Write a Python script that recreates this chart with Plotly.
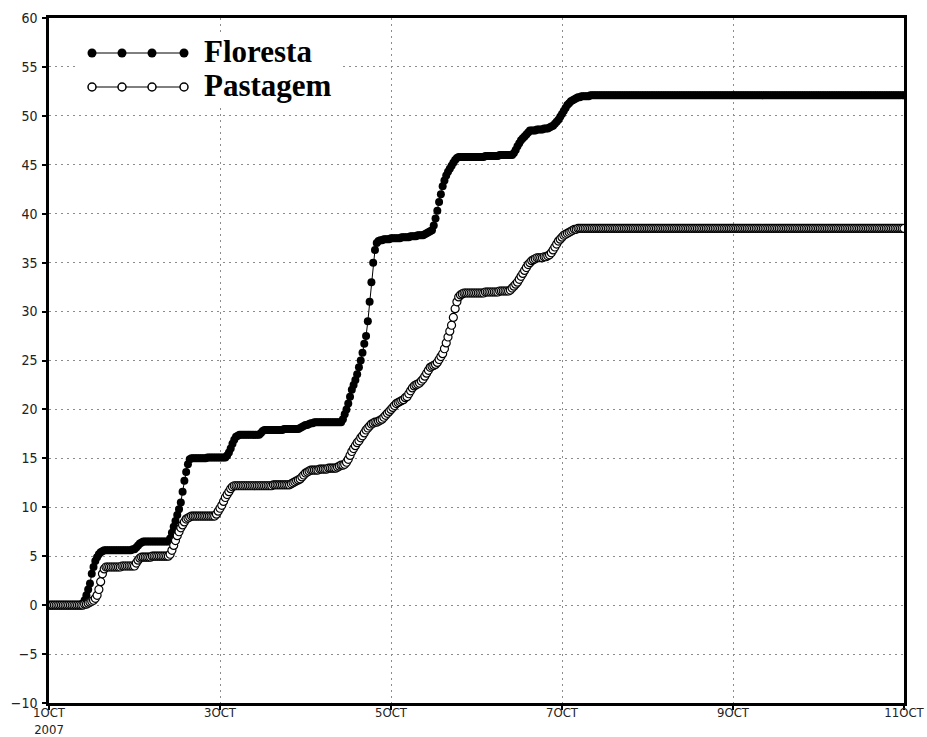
import pandas as pd
import plotly.graph_objects as go

# Accumulated rainfall (mm), half-hourly from 1 Oct 2007 00:00 to 11 Oct 2007 00:00
times = pd.date_range("2007-10-01 00:00", periods=481, freq="30min")

floresta = [
    0.0, 0.0, 0.0, 0.0, 0.0, 0.0, 0.0, 0.0, 0.0, 0.0, 0.0, 0.0, 0.0, 0.0, 0.0, 0.0, 0.0, 0.0, 0.0, 0.2, 0.5, 1.0, 1.6, 2.2,
    3.2, 3.9, 4.5, 4.9, 5.2, 5.4, 5.5, 5.6, 5.6, 5.6, 5.6, 5.6, 5.6, 5.6, 5.6, 5.6, 5.6, 5.6, 5.6, 5.6, 5.6, 5.6, 5.6, 5.7,
    5.7, 5.9, 6.1, 6.3, 6.4, 6.5, 6.5, 6.5, 6.5, 6.5, 6.5, 6.5, 6.5, 6.5, 6.5, 6.5, 6.5, 6.5, 6.5, 6.5, 6.8, 7.4, 8.0, 8.6,
    9.2, 9.8, 10.5, 11.6, 12.7, 13.6, 14.4, 14.9, 15.0, 15.0, 15.0, 15.0, 15.0, 15.0, 15.0, 15.0, 15.0, 15.1, 15.1, 15.1, 15.1, 15.1, 15.1, 15.1,
    15.1, 15.1, 15.1, 15.1, 15.3, 15.6, 16.0, 16.5, 16.9, 17.2, 17.3, 17.4, 17.4, 17.4, 17.4, 17.4, 17.4, 17.4, 17.4, 17.4, 17.4, 17.4, 17.4, 17.6,
    17.8, 17.9, 17.9, 17.9, 17.9, 17.9, 17.9, 17.9, 17.9, 17.9, 17.9, 17.9, 18.0, 18.0, 18.0, 18.0, 18.0, 18.0, 18.0, 18.0, 18.0, 18.1, 18.2, 18.3,
    18.4, 18.4, 18.5, 18.6, 18.6, 18.7, 18.7, 18.7, 18.7, 18.7, 18.7, 18.7, 18.7, 18.7, 18.7, 18.7, 18.7, 18.7, 18.7, 18.7, 18.7, 19.0, 19.5, 20.0,
    20.6, 21.3, 22.0, 22.5, 23.0, 23.6, 24.3, 25.0, 25.8, 26.7, 27.5, 29.0, 31.0, 33.0, 35.0, 36.3, 37.0, 37.2, 37.3, 37.3, 37.4, 37.4, 37.4, 37.4,
    37.5, 37.5, 37.5, 37.5, 37.5, 37.5, 37.6, 37.6, 37.6, 37.6, 37.6, 37.7, 37.7, 37.7, 37.7, 37.8, 37.8, 37.8, 37.8, 37.9, 38.0, 38.1, 38.2, 38.3,
    38.8, 39.5, 40.3, 41.2, 42.0, 42.8, 43.4, 43.9, 44.3, 44.6, 44.9, 45.2, 45.5, 45.7, 45.8, 45.8, 45.8, 45.8, 45.8, 45.8, 45.8, 45.8, 45.8, 45.8,
    45.8, 45.8, 45.8, 45.8, 45.8, 45.9, 45.9, 45.9, 45.9, 45.9, 45.9, 45.9, 45.9, 46.0, 46.0, 46.0, 46.0, 46.0, 46.0, 46.0, 46.0, 46.2, 46.5, 46.9,
    47.2, 47.5, 47.7, 47.9, 48.1, 48.3, 48.5, 48.5, 48.5, 48.5, 48.6, 48.6, 48.6, 48.6, 48.7, 48.7, 48.7, 48.8, 48.9, 49.0, 49.2, 49.4, 49.6, 49.9,
    50.2, 50.5, 50.8, 51.1, 51.3, 51.5, 51.6, 51.7, 51.8, 51.9, 51.9, 52.0, 52.0, 52.0, 52.0, 52.0, 52.1, 52.1, 52.1, 52.1, 52.1, 52.1, 52.1, 52.1,
    52.1, 52.1, 52.1, 52.1, 52.1, 52.1, 52.1, 52.1, 52.1, 52.1, 52.1, 52.1, 52.1, 52.1, 52.1, 52.1, 52.1, 52.1, 52.1, 52.1, 52.1, 52.1, 52.1, 52.1,
    52.1, 52.1, 52.1, 52.1, 52.1, 52.1, 52.1, 52.1, 52.1, 52.1, 52.1, 52.1, 52.1, 52.1, 52.1, 52.1, 52.1, 52.1, 52.1, 52.1, 52.1, 52.1, 52.1, 52.1,
    52.1, 52.1, 52.1, 52.1, 52.1, 52.1, 52.1, 52.1, 52.1, 52.1, 52.1, 52.1, 52.1, 52.1, 52.1, 52.1, 52.1, 52.1, 52.1, 52.1, 52.1, 52.1, 52.1, 52.1,
    52.1, 52.1, 52.1, 52.1, 52.1, 52.1, 52.1, 52.1, 52.1, 52.1, 52.1, 52.1, 52.1, 52.1, 52.1, 52.1, 52.1, 52.1, 52.1, 52.1, 52.1, 52.1, 52.1, 52.1,
    52.1, 52.1, 52.1, 52.1, 52.1, 52.1, 52.1, 52.1, 52.1, 52.1, 52.1, 52.1, 52.1, 52.1, 52.1, 52.1, 52.1, 52.1, 52.1, 52.1, 52.1, 52.1, 52.1, 52.1,
    52.1, 52.1, 52.1, 52.1, 52.1, 52.1, 52.1, 52.1, 52.1, 52.1, 52.1, 52.1, 52.1, 52.1, 52.1, 52.1, 52.1, 52.1, 52.1, 52.1, 52.1, 52.1, 52.1, 52.1,
    52.1, 52.1, 52.1, 52.1, 52.1, 52.1, 52.1, 52.1, 52.1, 52.1, 52.1, 52.1, 52.1, 52.1, 52.1, 52.1, 52.1, 52.1, 52.1, 52.1, 52.1, 52.1, 52.1, 52.1,
    52.1, 52.1, 52.1, 52.1, 52.1, 52.1, 52.1, 52.1, 52.1, 52.1, 52.1, 52.1, 52.1, 52.1, 52.1, 52.1, 52.1, 52.1, 52.1, 52.1, 52.1, 52.1, 52.1, 52.1,
    52.1,
]

pastagem = [
    0.0, 0.0, 0.0, 0.0, 0.0, 0.0, 0.0, 0.0, 0.0, 0.0, 0.0, 0.0, 0.0, 0.0, 0.0, 0.0, 0.0, 0.0, 0.0, 0.0, 0.1, 0.1, 0.2, 0.3,
    0.4, 0.5, 0.7, 1.0, 1.6, 2.4, 3.2, 3.7, 3.9, 3.9, 3.9, 3.9, 3.9, 3.9, 3.9, 3.9, 3.9, 4.0, 4.0, 4.0, 4.0, 4.0, 4.0, 4.0,
    4.0, 4.3, 4.6, 4.8, 4.9, 4.9, 4.9, 4.9, 4.9, 4.9, 5.0, 5.0, 5.0, 5.0, 5.0, 5.0, 5.0, 5.0, 5.0, 5.0, 5.2, 5.6, 6.1, 6.6,
    7.1, 7.5, 7.9, 8.2, 8.5, 8.8, 8.9, 9.0, 9.1, 9.1, 9.1, 9.1, 9.1, 9.1, 9.1, 9.1, 9.1, 9.1, 9.1, 9.1, 9.1, 9.1, 9.3, 9.6,
    9.9, 10.2, 10.6, 11.0, 11.3, 11.6, 11.9, 12.1, 12.2, 12.2, 12.2, 12.2, 12.2, 12.2, 12.2, 12.2, 12.2, 12.2, 12.2, 12.2, 12.2, 12.2, 12.2, 12.2,
    12.2, 12.2, 12.2, 12.2, 12.2, 12.2, 12.3, 12.3, 12.3, 12.3, 12.3, 12.3, 12.3, 12.3, 12.3, 12.3, 12.4, 12.5, 12.6, 12.7, 12.8, 12.9, 13.1, 13.3,
    13.5, 13.6, 13.7, 13.8, 13.8, 13.8, 13.8, 13.8, 13.9, 13.9, 13.9, 13.9, 13.9, 14.0, 14.0, 14.0, 14.0, 14.0, 14.1, 14.2, 14.3, 14.3, 14.4, 14.6,
    14.9, 15.3, 15.7, 16.0, 16.3, 16.6, 16.8, 17.1, 17.3, 17.6, 17.9, 18.1, 18.3, 18.5, 18.6, 18.7, 18.7, 18.8, 18.9, 19.0, 19.2, 19.4, 19.6, 19.8,
    20.0, 20.2, 20.4, 20.6, 20.7, 20.8, 20.9, 21.0, 21.2, 21.3, 21.6, 21.9, 22.2, 22.4, 22.5, 22.6, 22.7, 22.9, 23.1, 23.4, 23.7, 24.0, 24.3, 24.4,
    24.5, 24.6, 24.8, 25.1, 25.4, 25.7, 26.2, 26.8, 27.4, 28.0, 28.6, 29.4, 30.3, 31.0, 31.5, 31.7, 31.8, 31.9, 31.9, 31.9, 31.9, 31.9, 31.9, 31.9,
    31.9, 31.9, 31.9, 31.9, 31.9, 32.0, 32.0, 32.0, 32.0, 32.0, 32.0, 32.0, 32.0, 32.1, 32.1, 32.1, 32.1, 32.1, 32.1, 32.2, 32.4, 32.6, 32.8, 33.0,
    33.3, 33.6, 33.9, 34.2, 34.5, 34.8, 35.0, 35.2, 35.3, 35.4, 35.5, 35.5, 35.5, 35.5, 35.6, 35.6, 35.7, 35.8, 36.0, 36.3, 36.6, 36.9, 37.2, 37.4,
    37.6, 37.8, 37.9, 38.0, 38.1, 38.2, 38.3, 38.4, 38.4, 38.5, 38.5, 38.5, 38.5, 38.5, 38.5, 38.5, 38.5, 38.5, 38.5, 38.5, 38.5, 38.5, 38.5, 38.5,
    38.5, 38.5, 38.5, 38.5, 38.5, 38.5, 38.5, 38.5, 38.5, 38.5, 38.5, 38.5, 38.5, 38.5, 38.5, 38.5, 38.5, 38.5, 38.5, 38.5, 38.5, 38.5, 38.5, 38.5,
    38.5, 38.5, 38.5, 38.5, 38.5, 38.5, 38.5, 38.5, 38.5, 38.5, 38.5, 38.5, 38.5, 38.5, 38.5, 38.5, 38.5, 38.5, 38.5, 38.5, 38.5, 38.5, 38.5, 38.5,
    38.5, 38.5, 38.5, 38.5, 38.5, 38.5, 38.5, 38.5, 38.5, 38.5, 38.5, 38.5, 38.5, 38.5, 38.5, 38.5, 38.5, 38.5, 38.5, 38.5, 38.5, 38.5, 38.5, 38.5,
    38.5, 38.5, 38.5, 38.5, 38.5, 38.5, 38.5, 38.5, 38.5, 38.5, 38.5, 38.5, 38.5, 38.5, 38.5, 38.5, 38.5, 38.5, 38.5, 38.5, 38.5, 38.5, 38.5, 38.5,
    38.5, 38.5, 38.5, 38.5, 38.5, 38.5, 38.5, 38.5, 38.5, 38.5, 38.5, 38.5, 38.5, 38.5, 38.5, 38.5, 38.5, 38.5, 38.5, 38.5, 38.5, 38.5, 38.5, 38.5,
    38.5, 38.5, 38.5, 38.5, 38.5, 38.5, 38.5, 38.5, 38.5, 38.5, 38.5, 38.5, 38.5, 38.5, 38.5, 38.5, 38.5, 38.5, 38.5, 38.5, 38.5, 38.5, 38.5, 38.5,
    38.5, 38.5, 38.5, 38.5, 38.5, 38.5, 38.5, 38.5, 38.5, 38.5, 38.5, 38.5, 38.5, 38.5, 38.5, 38.5, 38.5, 38.5, 38.5, 38.5, 38.5, 38.5, 38.5, 38.5,
    38.5, 38.5, 38.5, 38.5, 38.5, 38.5, 38.5, 38.5, 38.5, 38.5, 38.5, 38.5, 38.5, 38.5, 38.5, 38.5, 38.5, 38.5, 38.5, 38.5, 38.5, 38.5, 38.5, 38.5,
    38.5,
]

tick_dates = ["2007-10-01", "2007-10-03", "2007-10-05", "2007-10-07", "2007-10-09", "2007-10-11"]
tick_labels = ["1OCT<br>2007", "3OCT", "5OCT", "7OCT", "9OCT", "11OCT"]
series_names = ["Floresta", "Pastagem"]

W, H = 927, 737
L, R, T, B = 49, 904, 18, 703

tick_font = dict(family="Liberation Sans Narrow, DejaVu Sans Condensed, Arial Narrow, sans-serif",
                 size=13, color="#222")
grid_color = "#8c8c8c"

fig = go.Figure()

fig.add_trace(go.Scatter(
    x=times, y=floresta, mode="lines+markers", name=series_names[0], showlegend=False,
    line=dict(color="black", width=1),
    marker=dict(symbol="circle", size=8, color="black", line=dict(color="black", width=0)),
))
fig.add_trace(go.Scatter(
    x=times, y=pastagem, mode="lines+markers", name=series_names[1], showlegend=False,
    line=dict(color="black", width=1),
    marker=dict(symbol="circle", size=8, color="white", line=dict(color="black", width=1.2)),
))

# Legend drawn on an overlay pair of axes whose units are page pixels
sample_x = [92, 122, 152, 184]
fig.add_trace(go.Scatter(
    x=[78, 340, 340, 78, 78], y=[34, 34, 104, 104, 34], xaxis="x2", yaxis="y2",
    mode="lines", fill="toself", fillcolor="white", line=dict(width=0),
    showlegend=False, hoverinfo="skip",
))
fig.add_trace(go.Scatter(
    x=sample_x, y=[53] * 4, xaxis="x2", yaxis="y2", mode="lines+markers", showlegend=False,
    line=dict(color="black", width=1),
    marker=dict(symbol="circle", size=9, color="black"), hoverinfo="skip",
))
fig.add_trace(go.Scatter(
    x=sample_x, y=[87] * 4, xaxis="x2", yaxis="y2", mode="lines+markers", showlegend=False,
    line=dict(color="black", width=1),
    marker=dict(symbol="circle", size=8, color="white", line=dict(color="black", width=1.5)),
    hoverinfo="skip",
))

legend_font = dict(family="Liberation Serif, Times New Roman, serif", size=31, color="black", weight="bold")
for name, ypos in zip(series_names, [51, 85]):
    fig.add_annotation(x=202, y=ypos, xref="x2", yref="y2", text=name, showarrow=False,
                       xanchor="left", yanchor="middle", font=legend_font)

fig.update_layout(
    width=W, height=H,
    margin=dict(l=L, r=W - R, t=T, b=H - B, pad=0, autoexpand=False),
    paper_bgcolor="white", plot_bgcolor="white",
    xaxis=dict(
        type="date", range=[tick_dates[0], tick_dates[-1]],
        tickmode="array", tickvals=tick_dates, ticktext=tick_labels,
        ticks="outside", ticklen=4, tickwidth=1.5, tickcolor="black",
        showline=True, linecolor="black", linewidth=2.5, mirror=True,
        showgrid=True, gridcolor=grid_color, gridwidth=1, griddash="2px,4px",
        zeroline=False, tickfont=tick_font, tickangle=0,
        automargin=False, ticklabeloverflow="allow", ticklabelstandoff=-8,
    ),
    yaxis=dict(
        range=[-10, 60], tickmode="linear", tick0=-10, dtick=5,
        ticks="outside", ticklen=4, tickwidth=1.5, tickcolor="black",
        showline=True, linecolor="black", linewidth=2.5, mirror=True,
        showgrid=True, gridcolor=grid_color, gridwidth=1, griddash="2px,4px",
        zeroline=False, tickfont=dict(tick_font, size=14),
        automargin=False, ticklabeloverflow="allow", ticklabelstandoff=2,
    ),
    xaxis2=dict(overlaying="x", range=[L, R], visible=False, fixedrange=True),
    yaxis2=dict(overlaying="y", range=[B, T], visible=False, fixedrange=True),
)

fig.write_html("out.html")
